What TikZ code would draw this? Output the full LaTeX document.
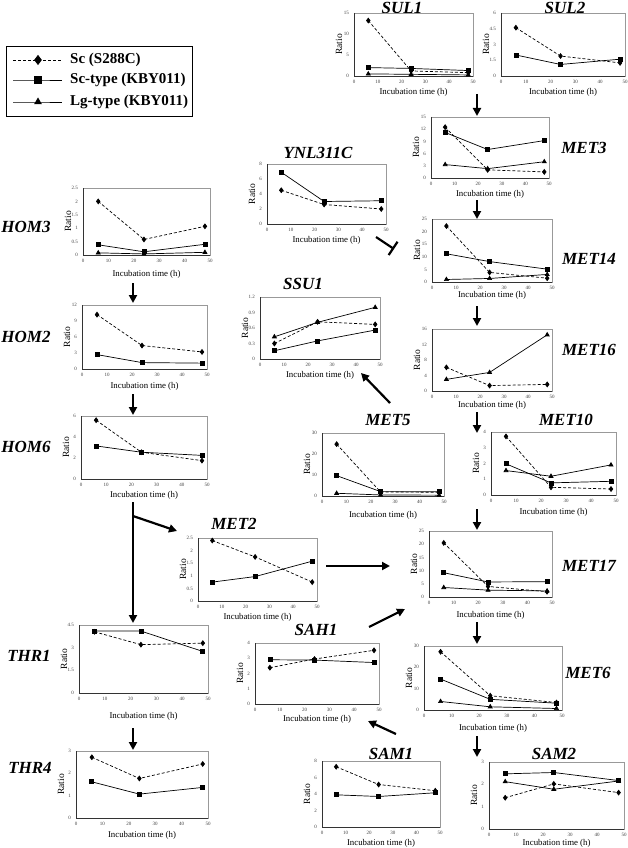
\documentclass[tikz,border=0pt]{standalone}
\usepackage{fontspec}
\setmainfont{Liberation Serif}
\usetikzlibrary{arrows.meta,plotmarks,calc}

% one small Excel-like panel: [label gap] left, top, right, bottom, ymax, y ticks, data
\newcommand{\ratioplot}[8][16pt]{%
  \pgfmathsetmacro\xu{(#4-#2)/50}%
  \pgfmathsetmacro\yu{(#5-#3)/#6}%
  \begin{scope}[shift={(#2,#5)},x=\xu pt,y=\yu pt]
    \draw[gray!80,line width=.5pt] (0,0) rectangle (50,#6);
    \draw[black!80,line width=.4pt] (0,#6) -- (0,0) -- (50,0);
    \foreach \t in {#7} \node[ticklab,left,xshift=-4pt] at (0,\t) {\t};
    \foreach \t in {0,10,...,50} \node[ticklab,below,yshift=-3pt] at (\t,0) {\t};
    \node[ratiolab] at ($(0,#6/2)+(-15pt,0)$) {Ratio};
    \node[xlab,yshift=-#1] at (25,0) {Incubation time (h)};
    #8
  \end{scope}}

\begin{document}
\begin{tikzpicture}[x=1pt,y=-1pt,
  gene/.style={font=\fontsize{17}{17}\selectfont\bfseries\itshape, inner sep=0pt},
  ticklab/.style={font=\fontsize{5}{5}\selectfont, text=black!75, inner sep=1pt},
  ratiolab/.style={font=\fontsize{9.5}{9.5}\selectfont, rotate=90, inner sep=0pt},
  xlab/.style={font=\fontsize{8.8}{8.8}\selectfont, inner sep=0pt},
  legtext/.style={font=\fontsize{15}{15}\selectfont\bfseries, anchor=west, inner sep=0pt},
  sc/.style={line width=.7pt, dash pattern=on 3pt off 2pt, mark=diamond*, mark size=2.4pt, mark options={solid}},
  sct/.style={line width=.7pt, mark=square*, mark size=2pt},
  lgt/.style={line width=.7pt, mark=triangle*, mark size=2.3pt},
  pathway/.style={line width=2.2pt, -{Triangle[length=8pt,width=8pt]}}]
\useasboundingbox (0,0) rectangle (628,848);

% legend
\node[draw, line width=.8pt, minimum width=186pt, minimum height=70pt] (legend) at (99,81) {};
\draw[sc, mark size=4.5pt, mark indices={2}] plot coordinates {(13,60) (38,60) (62,60)};
\draw[sct, mark size=3.4pt, mark indices={2}] plot coordinates {(13,80) (38,80) (62,80)};
\draw[lgt, mark size=3.8pt, mark indices={2}] plot coordinates {(13,102) (38,102) (62,102)};
\node[legtext] (lsc) at (70,60) {Sc (S288C)};
\node[legtext] (lsct) at (70,80) {Sc-type (KBY011)};
\node[legtext] (llgt) at (70,102) {Lg-type (KBY011)};

% gene names
\node[gene] (sul1) at (402,8) {SUL1};
\node[gene] (sul2) at (565,8) {SUL2};
\node[gene] (met3) at (584,148) {MET3};
\node[gene] (ynl) at (318,153) {YNL311C};
\node[gene] (hom3) at (26,227) {HOM3};
\node[gene] (met14) at (589,259) {MET14};
\node[gene] (ssu1) at (303,284) {SSU1};
\node[gene] (hom2) at (26,337) {HOM2};
\node[gene] (met16) at (589,350) {MET16};
\node[gene] (met5) at (388,420) {MET5};
\node[gene] (met10) at (566,420) {MET10};
\node[gene] (hom6) at (26,447) {HOM6};
\node[gene] (met2) at (234,524) {MET2};
\node[gene] (met17) at (589,566) {MET17};
\node[gene] (sah1) at (316,630) {SAH1};
\node[gene] (thr1) at (29,656) {THR1};
\node[gene] (met6) at (588,673) {MET6};
\node[gene] (sam1) at (391,754) {SAM1};
\node[gene] (sam2) at (554,754) {SAM2};
\node[gene] (thr4) at (30,768) {THR4};

% panels
\ratioplot{354}{13}{473}{76}{15}{0,5,10,15}{
  \draw[sc] plot coordinates {(6,13.2) (24,1.2) (48,0.8)};
  \draw[sct] plot coordinates {(6,2) (24,1.8) (48,1.3)};
  \draw[lgt] plot coordinates {(6,0.5) (24,0.4) (48,0.25)};}
\ratioplot{501}{13}{625}{76}{6}{0,1.5,3,4.5,6}{
  \draw[sc] plot coordinates {(6,4.6) (24,1.9) (48,1.25)};
  \draw[sct] plot coordinates {(6,2) (24,1.1) (48,1.6)};}
\ratioplot{431}{117}{549}{178}{15}{0,3,6,9,12,15}{
  \draw[sc] plot coordinates {(6,12.5) (24,2) (48,1.5)};
  \draw[sct] plot coordinates {(6,11.2) (24,7) (48,9.2)};
  \draw[lgt] plot coordinates {(6,3.3) (24,2.3) (48,4)};}
\ratioplot{267}{164}{386}{224}{8}{0,2,4,6,8}{
  \draw[sc] plot coordinates {(6,4.5) (24,2.6) (48,2)};
  \draw[sct] plot coordinates {(6,6.9) (24,3) (48,3.1)};}
\ratioplot[19pt]{83}{188}{210}{255}{2.5}{0,0.5,1,1.5,2,2.5}{
  \draw[sc] plot coordinates {(6,2) (24,0.58) (48,1.07)};
  \draw[sct] plot coordinates {(6,0.38) (24,0.12) (48,0.4)};
  \draw[lgt] plot coordinates {(6,0.08) (24,0.04) (48,0.1)};}
\ratioplot[13pt]{432}{219}{552}{282}{25}{0,5,10,15,20,25}{
  \draw[sc] plot coordinates {(6,22.2) (24,3.8) (48,1.5)};
  \draw[sct] plot coordinates {(6,11.2) (24,8.1) (48,5.1)};
  \draw[lgt] plot coordinates {(6,1) (24,1.4) (48,3)};}
\ratioplot{260}{297}{380}{359}{1.2}{0,0.3,0.6,0.9,1.2}{
  \draw[sc] plot coordinates {(6,0.3) (24,0.72) (48,0.67)};
  \draw[sct] plot coordinates {(6,0.16) (24,0.35) (48,0.56)};
  \draw[lgt] plot coordinates {(6,0.43) (24,0.71) (48,1)};}
\ratioplot[17pt]{82}{305}{207}{369}{12}{0,3,6,9,12}{
  \draw[sc] plot coordinates {(6,10.2) (24,4.4) (48,3.2)};
  \draw[sct] plot coordinates {(6,2.7) (24,1.2) (48,1.1)};}
\ratioplot[14pt]{432}{329}{552}{391}{16}{0,4,8,12,16}{
  \draw[sc] plot coordinates {(6,6.1) (24,1.4) (48,1.7)};
  \draw[lgt] plot coordinates {(6,3) (24,4.8) (48,14.5)};}
\ratioplot[19pt]{322}{433}{444}{496}{30}{0,10,20,30}{
  \draw[sc] plot coordinates {(6,24.7) (24,1.9) (48,1.8)};
  \draw[sct] plot coordinates {(6,9.7) (24,2.1) (48,2)};
  \draw[lgt] plot coordinates {(6,1.3) (24,0.5) (48,0.4)};}
\ratioplot[17pt]{491}{432}{616}{495}{4}{0,1,2,3,4}{
  \draw[sc] plot coordinates {(6,3.72) (24,0.49) (48,0.38)};
  \draw[sct] plot coordinates {(6,1.98) (24,0.77) (48,0.87)};
  \draw[lgt] plot coordinates {(6,1.55) (24,1.19) (48,1.91)};}
\ratioplot{81}{416}{207}{479}{6}{0,2,4,6}{
  \draw[sc] plot coordinates {(6,5.6) (24,2.55) (48,1.75)};
  \draw[sct] plot coordinates {(6,3.15) (24,2.55) (48,2.25)};}
\ratioplot{198}{538}{317}{601}{2.5}{0,0.5,1,1.5,2,2.5}{
  \draw[sc] plot coordinates {(6,2.4) (24,1.75) (48,0.75)};
  \draw[sct] plot coordinates {(6,0.75) (24,0.97) (48,1.58)};}
\ratioplot[18pt]{429}{531}{552}{597}{25}{0,5,10,15,20,25}{
  \draw[sc] plot coordinates {(6,20.5) (24,4) (48,2)};
  \draw[sct] plot coordinates {(6,9.2) (24,5.7) (48,5.8)};
  \draw[lgt] plot coordinates {(6,3.6) (24,2.6) (48,2.3)};}
\ratioplot[23pt]{79}{625}{208}{693}{4.5}{0,1.5,3,4.5}{
  \draw[sc] plot coordinates {(6,4.05) (24,3.2) (48,3.3)};
  \draw[sct] plot coordinates {(6,4.1) (24,4.1) (48,2.75)};}
\ratioplot[15pt]{255}{643}{379}{704}{4}{0,1,2,3,4}{
  \draw[sc] plot coordinates {(6,2.38) (24,2.95) (48,3.52)};
  \draw[sct] plot coordinates {(6,2.9) (24,2.88) (48,2.72)};}
\ratioplot[18pt]{424}{646}{562}{710}{30}{0,10,20,30}{
  \draw[sc] plot coordinates {(6,27.3) (24,6.7) (48,3.5)};
  \draw[sct] plot coordinates {(6,14.5) (24,5) (48,3.2)};
  \draw[lgt] plot coordinates {(6,4) (24,1.5) (48,0.7)};}
\ratioplot[17pt]{76}{751}{208}{818}{3}{0,1,2,3}{
  \draw[sc] plot coordinates {(6,2.72) (24,1.77) (48,2.42)};
  \draw[sct] plot coordinates {(6,1.62) (24,1.07) (48,1.37)};}
\ratioplot{322}{761}{440}{827}{8}{0,2,4,6,8}{
  \draw[sc] plot coordinates {(6,7.3) (24,5.15) (48,4.4)};
  \draw[sct] plot coordinates {(6,3.9) (24,3.7) (48,4.15)};}
\ratioplot[14pt]{489}{762}{624}{829}{3}{0,1,2,3}{
  \draw[sc] plot coordinates {(6,1.4) (24,2.02) (48,1.63)};
  \draw[sct] plot coordinates {(6,2.47) (24,2.53) (48,2.17)};
  \draw[lgt] plot coordinates {(6,2.12) (24,1.78) (48,2.15)};}

% arrow ends
\coordinate (sul-o) at (477,94);    \coordinate (met3-i) at (477,116);
\coordinate (met3-o) at (477,200);  \coordinate (met14-i) at (477,219);
\coordinate (met14-o) at (477,306); \coordinate (met16-i) at (477,326);
\coordinate (met16-o) at (477,412); \coordinate (met10-i) at (477,433);
\coordinate (met10-o) at (477,509); \coordinate (met17-i) at (477,530);
\coordinate (met17-o) at (477,622); \coordinate (met6-i) at (477,644);
\coordinate (met6-o) at (477,736);  \coordinate (sam2-i) at (477,757);
\coordinate (hom3-o) at (133,283);  \coordinate (hom2-i) at (133,303);
\coordinate (hom2-o) at (133,394);  \coordinate (hom6-i) at (133,415);
\coordinate (hom6-o) at (133,502);  \coordinate (thr1-i) at (133,623);
\coordinate (fork) at (133,516);    \coordinate (met2-i) at (177,531);
\coordinate (thr1-o) at (133,728);  \coordinate (thr4-i) at (133,750);
\coordinate (met2-o) at (326,566);  \coordinate (met17-l) at (390,566);
\coordinate (sah1-o) at (369,627);  \coordinate (met17-s) at (405,609);
\coordinate (sam1-o) at (396,734);  \coordinate (sah1-i) at (368,721);
\coordinate (met5-o) at (390,403);  \coordinate (ssu1-i) at (361,373);
\coordinate (ynl-o) at (376,237);   \coordinate (met14-b) at (394,249);

\draw[pathway] (sul-o) -- (met3-i);
\draw[pathway] (met3-o) -- (met14-i);
\draw[pathway] (met14-o) -- (met16-i);
\draw[pathway] (met16-o) -- (met10-i);
\draw[pathway] (met10-o) -- (met17-i);
\draw[pathway] (met17-o) -- (met6-i);
\draw[pathway] (met6-o) -- (sam2-i);
\draw[pathway] (hom3-o) -- (hom2-i);
\draw[pathway] (hom2-o) -- (hom6-i);
\draw[pathway] (hom6-o) -- (thr1-i);
\draw[pathway] (fork) -- (met2-i);
\draw[pathway] (thr1-o) -- (thr4-i);
\draw[pathway] (met2-o) -- (met17-l);
\draw[pathway] (sah1-o) -- (met17-s);
\draw[pathway] (sam1-o) -- (sah1-i);
\draw[pathway] (met5-o) -- (ssu1-i);
\draw[line width=2.2pt, -{Bar[width=16pt]}] (ynl-o) -- (met14-b);

\end{tikzpicture}
\end{document}
